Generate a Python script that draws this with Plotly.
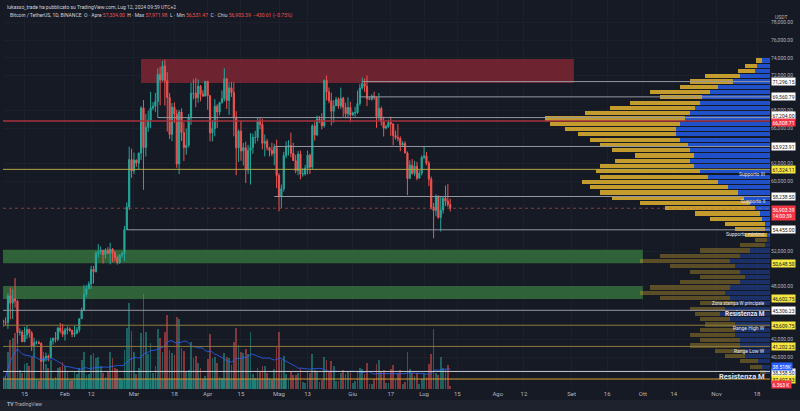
"""BTC/USDT 1D chart (TradingView style) with zones, levels and volume profile."""

import pandas as pd
import plotly.graph_objects as go

# ---- candles, Jan 6 -> Jul 12 2024 ----
DAYS = pd.date_range("2024-01-06", "2024-07-12", freq="D")
OPEN_FIRST = 44160

CLOSE = [
    43960, 43930, 46960, 46110, 46630, 46340, 42780, 42840, 41730, 42510, 43150, 42740, 41270,
    41620, 41660, 41550, 39510, 39850, 40080, 39930, 41820, 42120, 42030, 43300, 42950, 42580,
    43080, 43200, 43010, 42580, 42710, 43090, 44350, 45290, 47130, 47770, 48290, 49960, 49700,
    51800, 51940, 52130, 51640, 52140, 51780, 52260, 51850, 51300, 50730, 51570, 51730, 54480,
    57040, 62430, 61130,
    62390, 62030, 63170, 68300, 63800, 66100, 66920, 68300, 68500, 69020, 72120, 71480, 73080,
    71400, 69500, 65300, 68390, 67600, 61940, 67840, 65500, 63800, 64060, 67230, 69960, 69990,
    69450, 70780, 69890, 69650, 71330,
    69700, 65460, 65960, 68500, 67840, 68900, 69360, 71620, 69140, 70590, 70060, 67200, 63770,
    65660, 63420, 63790, 61280, 63470, 63820, 64940, 64940, 66840, 66410, 64280, 64500, 63770,
    63460, 63120, 63840, 60640,
    58250, 59120, 62890, 63890, 64030, 63160, 62310, 61190, 63070, 60790, 60800, 61460, 62940,
    61580, 66270, 65230, 67050, 66940, 66270, 71450, 70140, 69120, 67930, 68540, 69280, 68510,
    69400, 68370, 67640, 68360, 67500,
    67750, 67760, 68800, 70570, 71080, 70760, 69340, 69300, 69650, 69510, 67320, 68240, 66760,
    66010, 66190, 66640, 66490, 65170, 64960, 64830, 64100, 64250, 63180, 60280, 61800, 60860,
    61680, 60320, 60890, 62680,
    62850, 62030, 60200, 57040, 56640, 58230, 55860, 56710, 58050, 57720, 57334, 56903.39,
]
HIGH = [
    44230, 44500, 47250, 47900, 47700, 48970, 46500, 43250, 43070, 43400, 43580, 43200, 42930,
    42200, 41870, 41850, 41660, 40130, 40500, 40270, 42200, 42200, 42840, 43430, 43880, 43750,
    43290, 43490, 43380, 43120, 43540, 43400, 44370, 45600, 48200, 48160, 48580, 50370, 50350,
    52000, 52820, 52570, 52170, 52350, 52480, 52980, 52370, 52060, 51550, 51700, 51960, 54900,
    57580, 63900, 63670,
    63230, 62430, 63230, 68500, 69200, 67630, 67990, 70140, 68950, 70000, 72800, 72970, 73650,
    73780, 72380, 70000, 68850, 68930, 68100, 68100, 68250, 66650, 65970, 67620, 71150, 71560,
    71700, 71550, 70920, 70330, 71370,
    71340, 69680, 66900, 69290, 68720, 69000, 70290, 72800, 71740, 71170, 71250, 71200, 67930,
    65850, 66850, 64340, 64470, 64100, 65450, 65390, 65700, 67230, 67200, 67070, 65280, 64790,
    63900, 64350, 64230, 64700,
    60870, 59600, 63320, 64500, 64650, 65500, 64340, 62990, 63420, 63470, 61450, 61820, 63450,
    63100, 66450, 66680, 67440, 67390, 67700, 71520, 71980, 70620, 70040, 69200, 69570, 69520,
    70610, 69570, 68900, 69520, 69000,
    67880, 68440, 70280, 71060, 71760, 71620, 71990, 69580, 69850, 70150, 69560, 70000, 68450,
    67300, 66400, 66990, 67300, 66560, 65730, 66480, 65070, 64520, 64520, 63360, 62360, 62480,
    62290, 62180, 61200, 62900,
    63860, 63290, 62280, 60500, 57500, 58480, 58380, 58240, 58300, 59470, 59650, 57971.98,
]
LOW = [
    43420, 43600, 43200, 44300, 44300, 45600, 41500, 42440, 41720, 41700, 42050, 42200, 40680,
    40280, 41420, 41450, 39430, 38550, 39480, 39500, 39820, 41400, 41630, 41800, 42700, 42280,
    41880, 42580, 42880, 42260, 42260, 42580, 42790, 44330, 45240, 46800, 47700, 47700, 48350,
    49600, 51300, 51620, 50630, 51170, 51700, 50530, 50780, 50920, 50500, 50580, 51280, 50900,
    54440, 56700, 60360,
    60780, 61600, 61320, 62370, 59000, 62780, 65600, 66000, 68050, 67850, 67200, 68600, 71350,
    68560, 65630, 64780, 64530, 66600, 61500, 60780, 64550, 62260, 63000, 63800, 66380, 69280,
    68380, 68900, 69060, 69550, 69620,
    68100, 64500, 64500, 65080, 66030, 67450, 68790, 69040, 68200, 67520, 69560, 65080, 60660,
    62160, 62300, 61760, 59770, 60810, 59600, 63090, 64250, 64510, 65870, 63600, 62800, 63460,
    62790, 62820, 61790, 59190,
    56550, 56940, 58800, 62590, 62900, 62700, 62290, 60880, 60650, 60190, 60490, 60620, 60760,
    60800, 61300, 64600, 65100, 66600, 65850, 66060, 69160, 68840, 66300, 66620, 68530, 68210,
    68200, 67300, 67120, 67120, 66670,
    67390, 67300, 67610, 68560, 70380, 70120, 68500, 69200, 69130, 69230, 66050, 66900, 66300,
    65060, 65870, 66040, 65130, 64060, 64690, 64500, 63380, 63940, 63170, 58400, 60240, 60710,
    60580, 60080, 60300, 60630,
    62500, 61800, 59420, 56770, 53490, 56000, 55720, 54260, 56300, 57160, 57050, 56531.47,
]
# daily volume, thousands of BTC
VOLUME_K = [
    22, 25, 72, 95, 98, 108, 122, 36, 30, 48, 50, 45, 62, 68, 18, 16, 58, 72, 48, 40, 56, 20, 24,
    40, 43, 52,
    45, 32, 15, 18, 33, 29, 40, 55, 72, 26, 28, 66, 70, 60, 62, 45, 30, 24, 34, 72, 60, 40, 38,
    22, 18, 75, 118, 165, 112,
    72, 28, 40, 108, 182, 110, 68, 88, 30, 45, 115, 98, 72, 110, 142, 75, 70, 66, 138, 135, 78,
    74, 32, 36, 90, 60, 64, 50, 40, 20, 25,
    58, 105, 60, 62, 50, 24, 22, 70, 62, 60, 46, 90, 118, 85, 72, 70, 76, 68, 110, 28, 22, 40,
    34, 44, 45, 30, 22, 18, 38, 80,
    110, 56, 64, 28, 20, 32, 26, 27, 30, 40, 14, 12, 34, 30, 68, 36, 35, 14, 18, 62, 56, 32, 54,
    44, 15, 16, 30, 36, 28, 32, 32,
    12, 16, 34, 40, 38, 28, 50, 9, 9, 20, 48, 55, 35, 36, 12, 12, 38, 46, 20, 30, 36, 10, 14, 72,
    38, 30, 25, 30, 10, 20,
    28, 24, 48, 68, 115, 30, 26, 62, 40, 38, 46, 6.363,
]

# ---- visible range volume profile (rows of 600 USDT, top -> bottom) ----
PROFILE_PRICE = [
    73700, 73100, 72500, 71900, 71300, 70700, 70100, 69500, 68900, 68300, 67700, 67100, 66500,
    65900, 65300, 64700, 64100, 63500, 62900, 62300, 61700, 61100, 60500, 59900, 59300, 58700,
    58100, 57500, 56900, 56300, 55700, 55100, 54500, 53900, 53300, 52700, 52100, 51500, 50900,
    50300, 49700, 49100, 48500, 47900, 47300, 46700, 46100, 45500, 44900, 44300, 43700, 43100,
    42500, 41900, 41300, 40700, 40100, 39500, 38900, 38300,
]
PROFILE_UP = [
    8, 13, 15, 30, 37, 52, 60, 68, 70, 75, 80, 85, 90, 94, 94, 90, 82, 80, 76, 80, 76, 70, 62,
    52, 42, 32, 26, 20, 15, 10, 8, 5, 5, 3, 3, 5, 20, 30, 40, 35, 30, 25, 30, 40, 45, 40, 35, 45,
    50, 40, 35, 35, 35, 30, 30, 25, 25, 12, 8, 4,
]
PROFILE_DOWN = [
    6, 12, 17, 35, 43, 38, 60, 42, 70, 85, 105, 140, 130, 111, 98, 90, 88, 78, 59, 75, 94, 104,
    108, 136, 138, 138, 132, 110, 90, 65, 52, 40, 30, 22, 12, 25, 50, 80, 90, 65, 50, 45, 60, 80,
    85, 70, 35, 35, 25, 30, 30, 35, 45, 40, 50, 30, 20, 18, 12, 6,
]
VALUE_AREA_LOW = 53600

# ---- drawn levels and zones ----
RED_ZONE = (71140, 73860)
GREEN_ZONES = [(50648.50, 52180), (46602.75, 48070)]
GREY_LEVELS = [
    (71296.15, "2024-06-05"), (69560.79, "2024-06-04"), (67204.00, "2024-03-11"),
    (63923.91, "2024-04-29"), (58238.50, "2024-04-29"), (54455.00, "2024-02-27"),
]
POC_LEVEL = 66808.71
FULL_LEVELS = [61324.11, 45306.23, 43609.75, 41202.25, 38358.50, 37497.83]

X_TICKS = ["2024-01-15", "2024-02-01", "2024-02-12", "2024-03-01", "2024-03-18", "2024-04-01",
           "2024-04-15", "2024-05-01", "2024-05-13", "2024-06-01", "2024-06-17", "2024-07-01",
           "2024-07-15", "2024-08-01", "2024-08-12", "2024-09-01", "2024-09-16", "2024-10-01",
           "2024-10-14", "2024-11-01", "2024-11-18"]
X_TICK_TEXT = ["15", "Feb", "12", "Mar", "18", "Apr", "15", "Mag", "13", "Giu", "17", "Lug",
               "15", "Ago", "12", "Set", "16", "Ott", "14", "Nov", "18"]

BG = "#161a25"
UP = "#26a69a"
DOWN = "#ef5350"
TXT = "#b2b5be"
FONT = "Roboto"
X_RANGE = ["2024-01-05 22:20", "2024-11-23 11:15"]
Y_RANGE = [36364, 80568]

opens = [OPEN_FIRST] + CLOSE[:-1]
vol_colors = [
    "rgba(38,166,154,0.5)" if c >= o else "rgba(239,83,80,0.5)" for o, c in zip(opens, CLOSE)
]
vol_ma = pd.Series(VOLUME_K).rolling(20, min_periods=1).mean()

fig = go.Figure()

fig.add_trace(go.Bar(
    x=DAYS, y=VOLUME_K, yaxis="y2", marker=dict(color=vol_colors, line=dict(width=0)),
    width=0.72 * 86400000, hoverinfo="skip", showlegend=False,
))
fig.add_trace(go.Scatter(
    x=DAYS, y=vol_ma, yaxis="y2", mode="lines", line=dict(color="#2962ff", width=0.8),
    hoverinfo="skip", showlegend=False,
))
fig.add_trace(go.Candlestick(
    x=DAYS, open=opens, high=HIGH, low=LOW, close=CLOSE,
    increasing=dict(line=dict(color=UP, width=1), fillcolor=UP),
    decreasing=dict(line=dict(color=DOWN, width=1), fillcolor=DOWN),
    whiskerwidth=0, hoverinfo="skip", showlegend=False,
))

in_va = [p >= VALUE_AREA_LOW for p in PROFILE_PRICE]
blue_cols = ["rgba(34,84,210,0.95)" if v else "rgba(34,84,210,0.38)" for v in in_va]
gold_cols = ["rgba(206,163,46,0.95)" if v else "rgba(206,163,46,0.38)" for v in in_va]
fig.add_trace(go.Bar(
    y=PROFILE_PRICE, x=PROFILE_UP, orientation="h", xaxis="x2", width=470,
    marker=dict(color=blue_cols, line=dict(width=0)), hoverinfo="skip", showlegend=False,
))
fig.add_trace(go.Bar(
    y=PROFILE_PRICE, x=PROFILE_DOWN, base=PROFILE_UP, orientation="h", xaxis="x2", width=470,
    marker=dict(color=gold_cols, line=dict(width=0)), hoverinfo="skip", showlegend=False,
))

shapes = []
shapes.append(dict(type="rect", xref="x", yref="y", x0="2024-03-04", x1="2024-09-02",
                   y0=RED_ZONE[0], y1=RED_ZONE[1], fillcolor="rgba(120,38,50,0.9)",
                   line=dict(width=0), layer="between"))
for lo, hi in GREEN_ZONES:
    shapes.append(dict(type="rect", xref="x", yref="y", x0=X_RANGE[0], x1="2024-10-01",
                       y0=lo, y1=hi, fillcolor="rgba(52,112,60,0.85)",
                       line=dict(width=0), layer="between"))
shapes.append(dict(type="rect", xref="x", yref="y", x0=X_RANGE[0], x1="2024-05-04",
                   y0=Y_RANGE[0], y1=FULL_LEVELS[-1], fillcolor="rgba(38,166,154,0.45)",
                   line=dict(width=0), layer="between"))
for price, start in GREY_LEVELS:
    shapes.append(dict(type="line", xref="x", yref="y", x0=start, x1=X_RANGE[1],
                       y0=price, y1=price, line=dict(color="#9598a1", width=1)))
shapes.append(dict(type="line", xref="paper", yref="y", x0=0, x1=1, y0=POC_LEVEL,
                   y1=POC_LEVEL, line=dict(color="#a8323c", width=1.5)))
level_colors = ["#b5a642", "#9598a1", "#8c7a3c", "#8c7a3c", "#c8cad0", "#d4a030"]
for price, col in zip(FULL_LEVELS, level_colors):
    shapes.append(dict(type="line", xref="paper", yref="y", x0=0, x1=1, y0=price, y1=price,
                       line=dict(color=col, width=1)))
shapes.append(dict(type="line", xref="paper", yref="y", x0=0, x1=1, y0=CLOSE[-1],
                   y1=CLOSE[-1], line=dict(color="rgba(239,83,80,0.55)", width=1, dash="dot")))
# bottom strip under the time axis
shapes.append(dict(type="rect", xref="paper", yref="paper", x0=-0.01, x1=1.05,
                   y0=-22 / 389, y1=-11 / 389, fillcolor="#1e222d", line=dict(width=0)))

annotations = []
box_prices = []


def axis_box(y, text, bg, fg="#131722", yref="y", shift=0):
    annotations.append(dict(
        xref="paper", yref=yref, x=1, y=y, xanchor="left", yanchor="middle", xshift=1,
        yshift=shift, text=text, showarrow=False, bgcolor=bg, borderpad=0.5,
        font=dict(family=FONT, size=5, color=fg),
    ))
    if yref == "y":
        box_prices.append(y)


box_shift = {67204.00: 2.5, 38358.50: -1.5}
for price, _ in GREY_LEVELS:
    axis_box(price, f"{price:,.2f}", "#ffffff", shift=box_shift.get(price, 0))
axis_box(POC_LEVEL, f"{POC_LEVEL:,.2f}", "#f23645", "#ffffff", shift=-1.5)
for price, bg in zip(FULL_LEVELS, ["#f5e642", "#ffffff", "#f5e642", "#f5e642", "#ffffff",
                                   "#f5e642"]):
    axis_box(price, f"{price:,.2f}", bg, shift=box_shift.get(price, 0))
for lo, _ in GREEN_ZONES:
    axis_box(lo, f"{lo:,.2f}", "#f5e642")
annotations.append(dict(
    xref="paper", yref="y", x=1, y=CLOSE[-1], xanchor="left", yanchor="top", xshift=1,
    yshift=3, text=f"{CLOSE[-1]:,.2f}<br>14:00:39", showarrow=False, bgcolor="#f23645",
    borderpad=0.5, align="left", font=dict(family=FONT, size=5, color="#ffffff"),
))
box_prices.append(CLOSE[-1])
box_prices.append(CLOSE[-1] - 700)
axis_box(vol_ma.iloc[-1], f"{vol_ma.iloc[-1]:.3f}K", "#2962ff", "#ffffff", yref="y2", shift=2)
axis_box(VOLUME_K[-1] + 2, f"{VOLUME_K[-1]:.3f} K", "#f23645", "#ffffff", yref="y2")
annotations.append(dict(xref="paper", yref="paper", x=1, y=1 - 12 / 389, xanchor="left",
                        xshift=3, text="USDT", showarrow=False,
                        font=dict(family=FONT, size=5, color=TXT)))

# grid labels hidden where a level box sits on top of them
grid_vals = [v for v in range(38000, 78001, 2000)
             if all(abs(v - b) > 650 for b in box_prices)]

# labels written on the chart next to the levels
chart_labels = [
    (FULL_LEVELS[0], "Supporto III", 5, -5, False),
    (GREY_LEVELS[4][0], "Supporto II", 5, -4, False),
    (GREY_LEVELS[5][0], "Supporto minimo", 5, -4, False),
    (GREEN_ZONES[1][0], "Zona stampa W principale", 4.5, -4.5, False),
    (FULL_LEVELS[1], "Resistenza M", 6.5, -4, True),
    (FULL_LEVELS[2], "Range High W", 5, -3, False),
    (FULL_LEVELS[3], "Range Low W", 5, -4.5, False),
    (FULL_LEVELS[4], "Resistenza M", 7.5, -5.5, True),
]
for price, text, size, shift, bold in chart_labels:
    annotations.append(dict(
        xref="paper", yref="y", x=1, y=price, xanchor="right", yanchor="middle", xshift=-3,
        yshift=shift, text=f"<b>{text}</b>" if bold else text, showarrow=False,
        font=dict(family=FONT, size=size, color="#e0e3eb"),
    ))

# header
annotations.append(dict(
    xref="paper", yref="paper", x=0, y=1, xanchor="left", yanchor="top", xshift=2, yshift=-2,
    text="lukasso_trade ha pubblicato su TradingView.com, Lug 12, 2024 09:59 UTC+2",
    showarrow=False, font=dict(family=FONT, size=5, color="#d1d4dc"),
))
red = "#ef5350"
chg = CLOSE[-1] - CLOSE[-2]
header = (
    "Bitcoin / TetherUS, 1D, BINANCE  O \u00b7 Apre "
    f"<span style='color:{red}'>{opens[-1]:,.2f}</span>  H \u00b7 Max "
    f"<span style='color:{red}'>{HIGH[-1]:,.2f}</span>  L \u00b7 Min "
    f"<span style='color:{red}'>{LOW[-1]:,.2f}</span>  C \u00b7 Chiu "
    f"<span style='color:{red}'>{CLOSE[-1]:,.2f}  \u2212{abs(chg):,.2f} "
    f"(\u2212{abs(chg) / CLOSE[-2] * 100:.2f}%)</span>"
)
annotations.append(dict(
    xref="paper", yref="paper", x=0, y=1, xanchor="left", yanchor="top", xshift=5, yshift=-10,
    text=header, showarrow=False, font=dict(family=FONT, size=5, color="#d1d4dc"),
))
annotations.append(dict(
    xref="paper", yref="paper", x=0, y=-15 / 389, xanchor="left", yanchor="middle", xshift=2,
    text="<b>TV</b> TradingView", showarrow=False, font=dict(family=FONT, size=5, color=TXT),
))

fig.update_layout(
    width=800, height=411, margin=dict(l=3, r=30, t=0, b=22),
    paper_bgcolor=BG, plot_bgcolor=BG, barmode="overlay", bargap=0,
    shapes=shapes, annotations=annotations, showlegend=False,
    xaxis=dict(
        type="date", range=X_RANGE, tickvals=X_TICKS, ticktext=X_TICK_TEXT,
        tickfont=dict(family=FONT, size=6, color=TXT), showgrid=True, gridcolor="#1c202b",
        zeroline=False, showline=False, ticks="", rangeslider=dict(visible=False),
    ),
    xaxis2=dict(overlaying="x", range=[767, 0], visible=False, anchor="y"),
    yaxis=dict(
        side="right", range=Y_RANGE, tickvals=grid_vals,
        ticktext=[f"{v:,.2f}" for v in grid_vals],
        tickfont=dict(family=FONT, size=5, color=TXT), showgrid=True, gridcolor="#1c202b",
        zeroline=False, ticks="",
    ),
    yaxis2=dict(overlaying="y", range=[0, 748], visible=False),
)

fig.write_html(
    "out.html",
    config={"displayModeBar": False},
    post_script="document.body.style.margin='0';",
)
